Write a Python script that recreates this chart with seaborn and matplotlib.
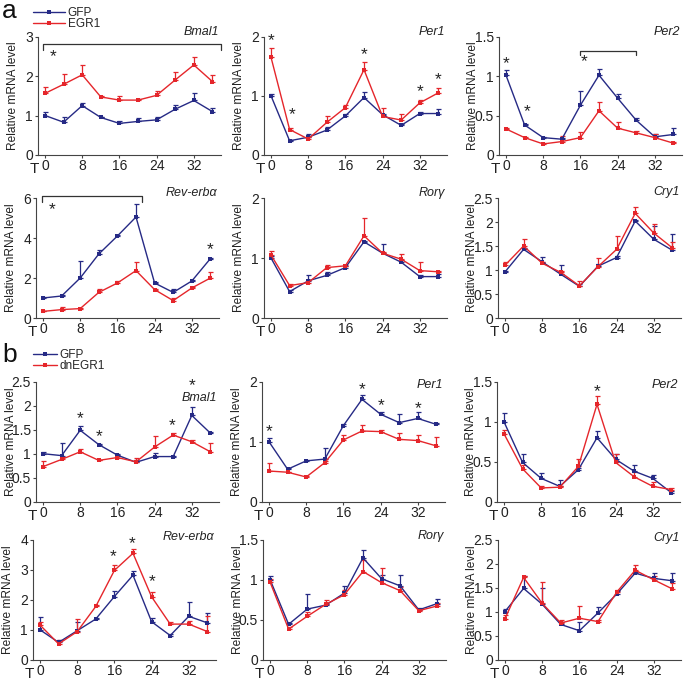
import numpy as np
import pandas as pd
import matplotlib
matplotlib.use("Agg")
import matplotlib.pyplot as plt
import seaborn as sns
from matplotlib.lines import Line2D
from matplotlib.transforms import offset_copy
from matplotlib.ticker import FuncFormatter

# ---------------- data ----------------
time = [0, 4, 8, 12, 16, 20, 24, 28, 32, 36]
xticks = [0, 8, 16, 24, 32]

# panel a : GFP vs EGR1
a_bmal1_gfp = [1.00, 0.83, 1.25, 0.95, 0.80, 0.85, 0.89, 1.16, 1.38, 1.10]
a_bmal1_gfp_err = [0.10, 0.14, 0.06, 0.02, 0.07, 0.08, 0.08, 0.11, 0.20, 0.08]
a_bmal1_egr1 = [1.56, 1.79, 2.03, 1.47, 1.39, 1.39, 1.51, 1.90, 2.28, 1.86]
a_bmal1_egr1_err = [0.15, 0.26, 0.24, 0.02, 0.11, 0.04, 0.12, 0.21, 0.19, 0.17]

a_per1_gfp = [1.00, 0.24, 0.30, 0.42, 0.66, 0.97, 0.68, 0.50, 0.70, 0.70]
a_per1_gfp_err = [0.03, 0.02, 0.05, 0.05, 0.03, 0.10, 0.02, 0.02, 0.03, 0.08]
a_per1_egr1 = [1.65, 0.43, 0.27, 0.55, 0.80, 1.44, 0.65, 0.59, 0.88, 1.05]
a_per1_egr1_err = [0.16, 0.02, 0.04, 0.11, 0.04, 0.13, 0.14, 0.10, 0.05, 0.08]

a_per2_gfp = [1.01, 0.38, 0.22, 0.20, 0.63, 1.01, 0.72, 0.44, 0.23, 0.26]
a_per2_gfp_err = [0.06, 0.01, 0.01, 0.01, 0.18, 0.08, 0.05, 0.03, 0.03, 0.08]
a_per2_egr1 = [0.33, 0.22, 0.14, 0.17, 0.22, 0.56, 0.34, 0.28, 0.22, 0.15]
a_per2_egr1_err = [0.01, 0.01, 0.01, 0.07, 0.07, 0.11, 0.08, 0.02, 0.05, 0.02]

a_rev_gfp = [1.00, 1.10, 2.00, 3.20, 4.10, 5.05, 1.75, 1.28, 1.85, 2.97]
a_rev_gfp_err = [0.05, 0.03, 0.83, 0.20, 0.07, 0.67, 0.03, 0.19, 0.07, 0.03]
a_rev_egr1 = [0.33, 0.42, 0.47, 1.28, 1.75, 2.37, 1.42, 0.87, 1.50, 2.00]
a_rev_egr1_err = [0.04, 0.11, 0.03, 0.19, 0.08, 0.43, 0.05, 0.13, 0.07, 0.30]

a_ror_gfp = [1.00, 0.44, 0.62, 0.71, 0.84, 1.27, 1.08, 0.93, 0.69, 0.69]
a_ror_gfp_err = [0.03, 0.02, 0.10, 0.05, 0.03, 0.02, 0.16, 0.03, 0.02, 0.04]
a_ror_egr1 = [1.05, 0.54, 0.59, 0.84, 0.87, 1.37, 1.08, 0.98, 0.79, 0.77]
a_ror_egr1_err = [0.06, 0.02, 0.04, 0.05, 0.01, 0.30, 0.02, 0.09, 0.15, 0.02]

a_cry1_gfp = [0.96, 1.43, 1.17, 0.91, 0.66, 1.08, 1.26, 2.02, 1.64, 1.41]
a_cry1_gfp_err = [0.02, 0.03, 0.11, 0.19, 0.04, 0.04, 0.03, 0.03, 0.27, 0.34]
a_cry1_egr1 = [1.10, 1.50, 1.14, 0.95, 0.67, 1.07, 1.43, 2.18, 1.77, 1.46]
a_cry1_egr1_err = [0.07, 0.14, 0.03, 0.03, 0.10, 0.19, 0.28, 0.13, 0.18, 0.13]

# panel b : GFP vs dnEGR1
b_bmal1_gfp = [1.00, 0.96, 1.49, 1.19, 0.97, 0.82, 0.94, 0.94, 1.80, 1.43]
b_bmal1_gfp_err = [0.04, 0.27, 0.09, 0.02, 0.03, 0.04, 0.08, 0.01, 0.17, 0.03]
b_bmal1_dn = [0.73, 0.88, 1.04, 0.86, 0.92, 0.83, 1.14, 1.39, 1.25, 1.04]
b_bmal1_dn_err = [0.12, 0.05, 0.05, 0.01, 0.03, 0.09, 0.22, 0.04, 0.03, 0.19]

b_per1_gfp = [1.00, 0.54, 0.68, 0.71, 1.27, 1.71, 1.46, 1.32, 1.39, 1.29]
b_per1_gfp_err = [0.06, 0.02, 0.01, 0.19, 0.02, 0.08, 0.03, 0.14, 0.10, 0.02]
b_per1_dn = [0.51, 0.49, 0.41, 0.65, 1.03, 1.18, 1.17, 1.04, 1.02, 0.93]
b_per1_dn_err = [0.13, 0.01, 0.01, 0.02, 0.09, 0.10, 0.03, 0.10, 0.09, 0.15]

b_per2_gfp = [1.00, 0.49, 0.29, 0.19, 0.40, 0.80, 0.53, 0.38, 0.29, 0.11]
b_per2_gfp_err = [0.11, 0.10, 0.07, 0.08, 0.02, 0.09, 0.06, 0.08, 0.04, 0.02]
b_per2_dn = [0.85, 0.41, 0.17, 0.18, 0.44, 1.22, 0.49, 0.31, 0.19, 0.15]
b_per2_dn_err = [0.05, 0.05, 0.02, 0.02, 0.09, 0.11, 0.11, 0.06, 0.05, 0.02]

b_rev_gfp = [0.99, 0.57, 0.96, 1.35, 2.10, 2.81, 1.26, 0.80, 1.44, 1.22]
b_rev_gfp_err = [0.44, 0.08, 0.28, 0.05, 0.19, 0.14, 0.12, 0.05, 0.49, 0.32]
b_rev_dn = [1.15, 0.52, 0.93, 1.77, 2.97, 3.54, 2.09, 1.18, 1.18, 0.93]
b_rev_dn_err = [0.11, 0.13, 0.42, 0.05, 0.17, 0.16, 0.16, 0.06, 0.11, 0.53]

b_ror_gfp = [1.00, 0.44, 0.63, 0.68, 0.83, 1.27, 1.01, 0.92, 0.62, 0.70]
b_ror_gfp_err = [0.04, 0.02, 0.19, 0.02, 0.09, 0.10, 0.05, 0.14, 0.03, 0.06]
b_ror_dn = [0.97, 0.38, 0.54, 0.69, 0.81, 1.10, 0.96, 0.86, 0.61, 0.67]
b_ror_dn_err = [0.04, 0.03, 0.06, 0.06, 0.06, 0.15, 0.18, 0.05, 0.01, 0.04]

b_cry1_gfp = [1.00, 1.48, 1.15, 0.73, 0.60, 0.97, 1.36, 1.80, 1.69, 1.64]
b_cry1_gfp_err = [0.06, 0.25, 0.33, 0.06, 0.19, 0.13, 0.06, 0.03, 0.11, 0.16]
b_cry1_dn = [0.85, 1.71, 1.17, 0.76, 0.86, 0.79, 1.40, 1.86, 1.66, 1.47]
b_cry1_dn_err = [0.08, 0.03, 0.45, 0.07, 0.26, 0.04, 0.05, 0.11, 0.07, 0.12]

# significance marks: (time, level) for asterisks, (t1, t2, level, drop) for brackets
a_bmal1_stars = [(1.8, 2.63)]
a_bmal1_brackets = [(-0.5, 37.9, 2.8, 0.13)]
a_per1_stars = [(0, 2.03), (4.5, 0.78), (20, 1.78), (32, 1.16), (36, 1.36)]
a_per2_stars = [(0, 1.23), (4.5, 0.62), (16.9, 1.25)]
a_per2_brackets = [(16, 28, 1.32, 0.05)]
a_rev_stars = [(1.9, 5.7), (36, 3.7)]
a_rev_brackets = [(-0.2, 21.2, 6.1, 0.3)]
b_bmal1_stars = [(8, 1.85), (12, 1.48), (27.7, 1.71), (32, 2.55)]
b_per1_stars = [(0, 1.27), (20, 1.97), (24, 1.7), (32, 1.65)]
b_per2_stars = [(20, 1.45)]
b_rev_stars = [(15.7, 3.6), (19.8, 4.05), (24.1, 2.78)]

genes = ["Bmal1", "Per1", "Per2", "Rev-erbα", "Rorγ", "Cry1"]
ymax_a = [3, 2, 1.5, 6, 2, 2.5]
ystep_a = [1, 1, 0.5, 2, 1, 0.5]
ymax_b = [2.5, 2, 1.5, 4, 1.5, 2.5]
ystep_b = [0.5, 1, 0.5, 1, 0.5, 0.5]

BLUE = "#262a85"
RED = "#e5262b"

# ---------------- style ----------------
sns.set_theme(style="ticks")
plt.rcParams["font.family"] = ["Liberation Sans", "DejaVu Sans"]

W, H = 685, 681
PX = 4.65
XMIN, XMAX = -1.6, 37.9

fig = plt.figure(figsize=(W / 100, H / 100), dpi=100)

row_tb = [(36.5, 155), (198, 318), (382, 501.5), (539.5, 659.5)]
col_x0 = [[45, 271, 506], [43, 271, 505], [43, 269, 504], [40, 270, 505]]
label_off = [[4.5, 4.5, 4.5], [5, 5, 6], [-16, -3, -3], [2, 3, 1]]
ylab_px = [18.5, 18.5, 20]

panels = [
    (0, 0, 0, a_bmal1_gfp, a_bmal1_gfp_err, a_bmal1_egr1, a_bmal1_egr1_err, "EGR1", a_bmal1_stars, a_bmal1_brackets),
    (0, 1, 1, a_per1_gfp, a_per1_gfp_err, a_per1_egr1, a_per1_egr1_err, "EGR1", a_per1_stars, []),
    (0, 2, 2, a_per2_gfp, a_per2_gfp_err, a_per2_egr1, a_per2_egr1_err, "EGR1", a_per2_stars, a_per2_brackets),
    (1, 0, 3, a_rev_gfp, a_rev_gfp_err, a_rev_egr1, a_rev_egr1_err, "EGR1", a_rev_stars, a_rev_brackets),
    (1, 1, 4, a_ror_gfp, a_ror_gfp_err, a_ror_egr1, a_ror_egr1_err, "EGR1", [], []),
    (1, 2, 5, a_cry1_gfp, a_cry1_gfp_err, a_cry1_egr1, a_cry1_egr1_err, "EGR1", [], []),
    (2, 0, 0, b_bmal1_gfp, b_bmal1_gfp_err, b_bmal1_dn, b_bmal1_dn_err, "dnEGR1", b_bmal1_stars, []),
    (2, 1, 1, b_per1_gfp, b_per1_gfp_err, b_per1_dn, b_per1_dn_err, "dnEGR1", b_per1_stars, []),
    (2, 2, 2, b_per2_gfp, b_per2_gfp_err, b_per2_dn, b_per2_dn_err, "dnEGR1", b_per2_stars, []),
    (3, 0, 3, b_rev_gfp, b_rev_gfp_err, b_rev_dn, b_rev_dn_err, "dnEGR1", b_rev_stars, []),
    (3, 1, 4, b_ror_gfp, b_ror_gfp_err, b_ror_dn, b_ror_dn_err, "dnEGR1", [], []),
    (3, 2, 5, b_cry1_gfp, b_cry1_gfp_err, b_cry1_dn, b_cry1_dn_err, "dnEGR1", [], []),
]

fmt = FuncFormatter(lambda v, p: f"{v:g}")

for (r, c, gi, ctrl, ctrl_err, trt, trt_err, trt_name, stars, brackets) in panels:
    top, bot = row_tb[r]
    x0 = col_x0[r][c]
    left = x0 + XMIN * PX
    width = (XMAX - XMIN) * PX
    ax = fig.add_axes([left / W, 1 - bot / H, width / W, (bot - top) / H])

    ymax = (ymax_a if r < 2 else ymax_b)[gi]
    ystep = (ystep_a if r < 2 else ystep_b)[gi]

    df = pd.DataFrame({
        "time": time + time,
        "level": list(ctrl) + list(trt),
        "group": ["GFP"] * len(time) + [trt_name] * len(time),
    })
    pal = {"GFP": BLUE, trt_name: RED}
    for name, vals, errs in [("GFP", ctrl, ctrl_err), (trt_name, trt, trt_err)]:
        ax.errorbar(time, vals, yerr=[np.zeros(len(errs)), errs], fmt="none",
                    ecolor=pal[name], elinewidth=0.9, capsize=1.8, capthick=0.9, zorder=2)
    sns.lineplot(data=df, x="time", y="level", hue="group", hue_order=["GFP", trt_name],
                 palette=pal, marker="s", markersize=3.2, markeredgewidth=0,
                 linewidth=1.0, legend=False, errorbar=None, ax=ax, zorder=3)

    ax.set_xlim(XMIN, XMAX)
    ax.set_ylim(0, ymax)
    ax.set_xticks(xticks)
    ax.set_yticks(np.arange(0, ymax + ystep / 2, ystep))
    ax.yaxis.set_major_formatter(fmt)
    ax.set_xlabel("")
    ax.set_ylabel("Relative mRNA level", fontsize=8.6, color="#222222")
    ax.yaxis.set_label_coords(-ylab_px[c] / width, 0.5)
    for s in ["top", "right"]:
        ax.spines[s].set_visible(False)
    for s in ["left", "bottom"]:
        ax.spines[s].set_color("#444444")
        ax.spines[s].set_linewidth(0.8)
    ax.tick_params(axis="both", length=2, width=0.8, pad=1.2, labelsize=10,
                   color="#444444", labelcolor="#222222")
    ax.patch.set_alpha(0)

    # time label "T"
    ax.annotate("T", xy=(0, 0), xycoords=("data", "axes fraction"),
                xytext=(-8, -13), textcoords="offset points",
                ha="center", va="baseline", fontsize=11, color="#222222")

    # gene name
    ax.text(0.99, 1 + label_off[r][c] / (bot - top), genes[gi], transform=ax.transAxes,
            ha="right", va="center", fontsize=9, style="italic", color="#222222")

    # significance
    star_tr = offset_copy(ax.transData, fig=fig, y=-4.0, units="points")
    for (tx, ty) in stars:
        ax.text(tx, ty, "*", transform=star_tr, ha="center", va="center",
                fontsize=12.5, color="#222222", clip_on=False)
    for (t1, t2, ly, drop) in brackets:
        ax.plot([t1, t1, t2, t2], [ly - drop, ly, ly, ly - drop], color="#333333",
                lw=0.9, clip_on=False, zorder=4)

# panel letters
fig.text(2 / W, 1 - 18 / H, "a", fontsize=19, ha="left", va="baseline", color="#111111")
fig.text(2 / W, 1 - 362 / H, "b", fontsize=19, ha="left", va="baseline", color="#111111")

# legends
def make_handles():
    return [Line2D([], [], color=BLUE, marker="s", markersize=3.2, markeredgewidth=0, lw=1.0),
            Line2D([], [], color=RED, marker="s", markersize=3.2, markeredgewidth=0, lw=1.0)]

fig.legend(make_handles(), ["GFP", "EGR1"], loc="upper left",
           bbox_to_anchor=(33 / W, 1 - 7 / H), frameon=False, fontsize=8.5,
           handlelength=2.7, handletextpad=0.25, labelspacing=-0.05,
           borderpad=0, borderaxespad=0, numpoints=1)
fig.legend(make_handles(), ["GFP", "dnEGR1"], loc="upper left",
           bbox_to_anchor=(33 / W, 1 - 349 / H), frameon=False, fontsize=8.5,
           handlelength=2.0, handletextpad=0.25, labelspacing=-0.05,
           borderpad=0, borderaxespad=0, numpoints=1)

fig.savefig("out.png", dpi=100)
